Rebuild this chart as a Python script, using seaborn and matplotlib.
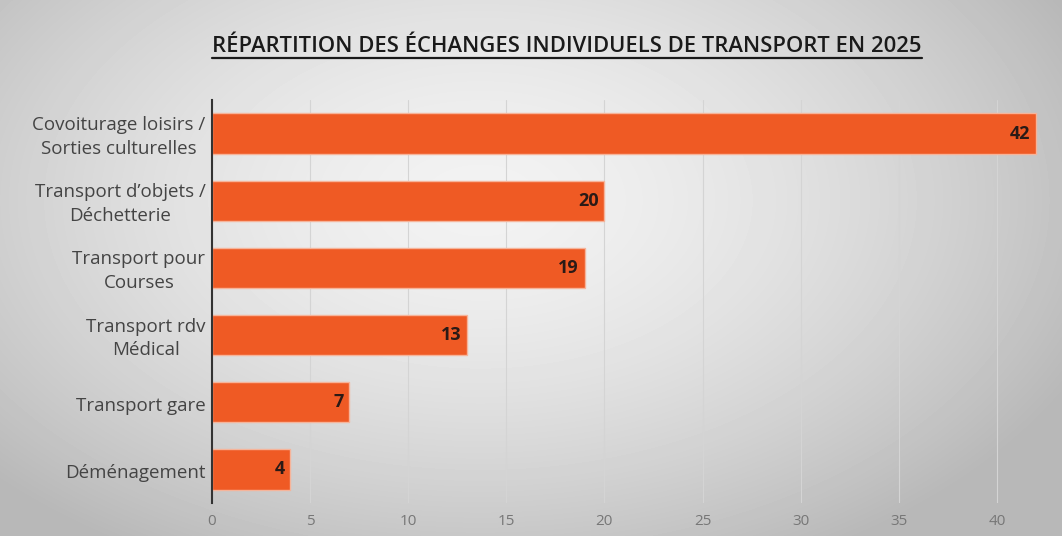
import numpy as np
import pandas as pd
import seaborn as sns
import matplotlib.pyplot as plt
from matplotlib.lines import Line2D

# Data
categories = ["Covoiturage loisirs /\nSorties culturelles", "Transport d\u2019objets /\nDéchetterie",
              "Transport pour\nCourses", "Transport rdv\nMédical", "Transport gare", "Déménagement"]
values = [42, 20, 19, 13, 7, 4]
title = "RÉPARTITION DES ÉCHANGES INDIVIDUELS DE TRANSPORT EN 2025"

df = pd.DataFrame({"cat": categories, "val": values})

sns.set_style("white")
plt.rcParams["font.family"] = ["Open Sans", "DejaVu Sans"]

fig = plt.figure(figsize=(10.62, 5.36), dpi=100)

# radial grey background
bg = fig.add_axes([0, 0, 1, 1], zorder=-10)
yy, xx = np.mgrid[0:536, 0:1062]
r = np.sqrt(((xx - 480) / 680.0) ** 2 + ((yy - 200) / 420.0) ** 2)
shade = np.clip(0.95 - 0.24 * r ** 1.6, 0.72, 0.95)
bg.imshow(shade, cmap="gray", vmin=0, vmax=1, aspect="auto", extent=[0, 1, 0, 1])
bg.axis("off")

ax = fig.add_axes([212 / 1062, 1 - 503 / 536, (1040 - 212) / 1062, 403 / 536])
ax.patch.set_alpha(0)
sns.barplot(data=df, x="val", y="cat", ax=ax, color="#EF5A24", width=0.6,
            edgecolor="#F6B49A", linewidth=1.0, saturation=1)

ax.set_xlim(0, 42.2)
ax.set_xticks(range(0, 45, 5))
ax.grid(axis="x", color="#d4d4d4", linewidth=0.8)
ax.set_axisbelow(True)
for s in ["top", "right", "bottom"]:
    ax.spines[s].set_visible(False)
ax.spines["left"].set_color("#333333")
ax.spines["left"].set_linewidth(1.5)
ax.tick_params(axis="x", colors="#777777", labelsize=11, length=0, pad=8)
ax.tick_params(axis="y", length=0, labelleft=False)
ax.set_xlabel("")
ax.set_ylabel("")

# category labels: block right-aligned, lines centred
for i, c in enumerate(categories):
    ax.text(-0.008, i + 0.05, c, transform=ax.get_yaxis_transform(), ha="right", va="center",
            multialignment="center", linespacing=1.4, fontsize=13.5, color="#444444")

for i, v in enumerate(values):
    ax.text(v - 0.3, i, str(v), ha="right", va="center", fontsize=13,
            fontweight="bold", color="#2a1a16")

t = fig.text(567 / 1062, 1 - 46 / 536, title, ha="center", va="center",
             fontsize=15.8, fontweight="semibold", color="#1a1a1a")
fig.canvas.draw()
bb = t.get_window_extent().transformed(fig.transFigure.inverted())
fig.add_artist(Line2D([bb.x0, bb.x1], [bb.y0 - 0.002, bb.y0 - 0.002],
                      color="#1a1a1a", linewidth=1.6, transform=fig.transFigure))

fig.savefig("out.png", dpi=100)
